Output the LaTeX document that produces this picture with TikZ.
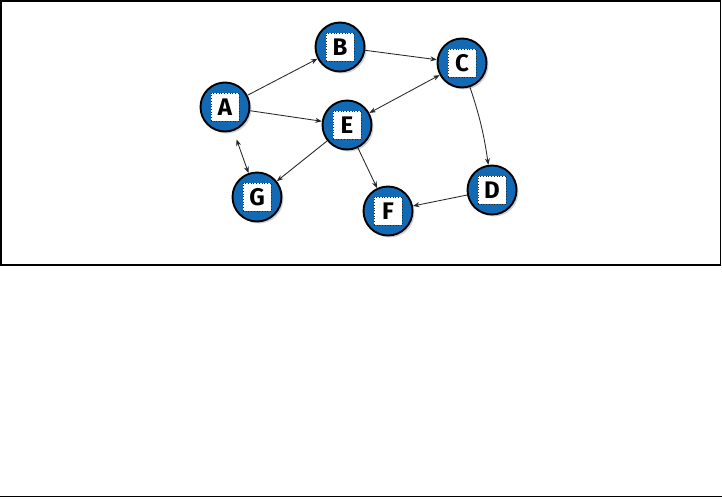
\documentclass[tikz,border=0pt]{standalone}
\usepackage{fontspec}
\setsansfont{Fira Sans}
\usepackage{tikz}
\usetikzlibrary{arrows.meta,shadows}
\definecolor{Blu}{HTML}{126AB5}
\definecolor{Ink}{HTML}{262626}

\begin{document}
\begin{tikzpicture}[x=1pt,y=-1pt,
    vtx/.style={circle,draw=black,line width=1.9pt,fill=Blu,minimum size=49pt,inner sep=0pt,
      drop shadow={opacity=0.35,shadow xshift=2pt,shadow yshift=-2pt},
      label={[sq]center:#1}},
    sq/.style={rectangle,draw=Ink,dotted,line width=0.7pt,fill=white,minimum width=28pt,minimum height=28pt,inner sep=0pt,
      font=\sffamily\bfseries\fontsize{24}{24}\selectfont},
    a/.style={-{Stealth[length=6.5pt,width=5pt]},line width=0.85pt,draw=Ink},
    aa/.style={{Stealth[length=6.5pt,width=5pt]}-{Stealth[length=6.5pt,width=5pt]},line width=0.85pt,draw=Ink}]
    \useasboundingbox (0,0) rectangle (722,498);
    \draw[line width=1.3pt] (1,1) rectangle (720.5,265);
    \draw[line width=1.3pt] (0,496.5) -- (722,496.5);
    \node[vtx=A] (a) at (225,107) {};
    \node[vtx=B] (b) at (340,47) {};
    \node[vtx=C] (c) at (462,63) {};
    \node[vtx=E] (e) at (347,125) {};
    \node[vtx=G] (g) at (257,197) {};
    \node[vtx=F] (f) at (388,211) {};
    \node[vtx=D] (d) at (492,190) {};
    \draw[a] (a)--(b); \draw[a] (a)--(e); \draw[a] (b)--(c);
    \draw[aa] (c)--(e); \draw[a] (c) to[bend left=5] (d); \draw[a] (d)--(f);
    \draw[a] (e)--(g); \draw[a] (e)--(f);
    \draw[aa,shorten <=9pt] (a)--(g);
  \end{tikzpicture}
\end{document}
